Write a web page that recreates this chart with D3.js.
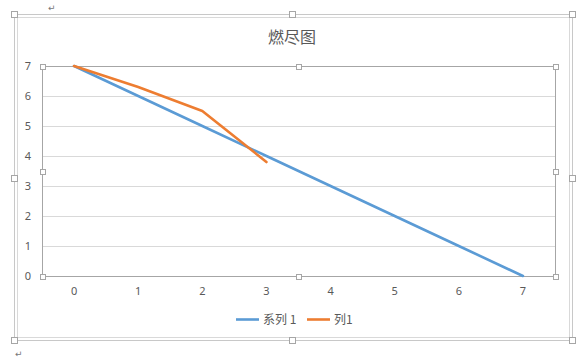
<!DOCTYPE html>
<html><head><meta charset="utf-8">
<script src="https://cdn.jsdelivr.net/npm/d3@7"></script>
<style>
html,body{margin:0;padding:0;background:#fff;}
svg{display:block;font-family:"Noto Sans CJK SC","Microsoft YaHei","DejaVu Sans",sans-serif;}
</style></head>
<body>
<svg id="c" width="581" height="359"></svg>
<script>
const categories = [0, 1, 2, 3, 4, 5, 6, 7];
const series1 = [7, 6, 5, 4, 3, 2, 1, 0];
const col1 = [7, 6.3, 5.5, 3.8];
const yTicks = [0, 1, 2, 3, 4, 5, 6, 7];
const title = "燃尽图";
const seriesNames = ["系列 1", "列1"];
const colors = ["#5B9BD5", "#ED7D31"];

const svg = d3.select("#c");
const L = 42, R = 555, T = 66, B = 276;

// outer frame (chart area + selection frame)
svg.append("rect").attr("x", 14.5).attr("y", 14.5).attr("width", 558).attr("height", 326)
  .attr("fill", "none").attr("stroke", "#C8C8C8");
svg.append("rect").attr("x", 17.5).attr("y", 17.5).attr("width", 552).attr("height", 320)
  .attr("fill", "none").attr("stroke", "#D9D9D9");

const x = d3.scaleBand().domain(categories).range([L, R]);
const y = d3.scaleLinear().domain([0, 7]).range([B, T]);
const cx = d => x(d) + x.bandwidth() / 2;

// gridlines
svg.append("g").selectAll("line").data(yTicks).join("line")
  .attr("x1", L).attr("x2", R)
  .attr("y1", d => Math.round(y(d)) + 0.5).attr("y2", d => Math.round(y(d)) + 0.5)
  .attr("stroke", "#D9D9D9");

// plot area border (selection)
svg.append("rect").attr("x", L + 0.5).attr("y", T + 0.5).attr("width", R - L).attr("height", B - T)
  .attr("fill", "none").attr("stroke", "#A6A6A6");

// y axis labels
const yAxis = d3.axisLeft(y).tickValues(yTicks).tickSize(0).tickPadding(11).tickFormat(d3.format("d"));
const gy = svg.append("g").attr("transform", `translate(${L},0)`).call(yAxis);
gy.select(".domain").remove();
gy.selectAll("text").attr("fill", "#595959").style("font-size", "11px").attr("font-family", "Noto Sans, DejaVu Sans, sans-serif");

// x axis labels
const xAxis = d3.axisBottom(x).tickSize(0).tickPadding(11);
const gx = svg.append("g").attr("transform", `translate(0,${B})`).call(xAxis);
gx.select(".domain").remove();
gx.selectAll("text").attr("fill", "#595959").style("font-size", "11px").attr("font-family", "Noto Sans, DejaVu Sans, sans-serif");

// lines
const line = d3.line().x((d, i) => cx(categories[i])).y(d => y(d));
svg.append("path").datum(series1).attr("d", line).attr("fill", "none")
  .attr("stroke", colors[0]).attr("stroke-width", 2.6).attr("stroke-linejoin", "round").attr("stroke-linecap", "round");
svg.append("path").datum(col1).attr("d", line).attr("fill", "none")
  .attr("stroke", colors[1]).attr("stroke-width", 2.6).attr("stroke-linejoin", "round").attr("stroke-linecap", "round");

// handles
function handle(hx, hy, s) {
  svg.append("rect").attr("x", Math.round(hx - s / 2) + 0.5).attr("y", Math.round(hy - s / 2) + 0.5)
    .attr("width", s).attr("height", s).attr("fill", "#fff").attr("stroke", "#A6A6A6");
}
const my = (T + B) / 2;
[[L, T], [298, T], [R, T], [L, my], [R, my], [L, B], [298, B], [R, B]].forEach(p => handle(p[0], p[1], 5));
[[14, 14], [292, 14], [572, 14], [14, 178], [572, 178], [14, 340], [292, 340], [572, 340]].forEach(p => handle(p[0], p[1], 6));

// title
svg.append("text").attr("x", 292).attr("y", 43).attr("text-anchor", "middle")
  .attr("fill", "#595959").style("font-size", "16px").text(title);

// legend
const lg = svg.append("g");
const legendItems = [{x: 236, name: seriesNames[0], c: colors[0]}, {x: 307, name: seriesNames[1], c: colors[1]}];
legendItems.forEach(it => {
  lg.append("line").attr("x1", it.x).attr("x2", it.x + 23).attr("y1", 319.5).attr("y2", 319.5)
    .attr("stroke", it.c).attr("stroke-width", 2.6);
  lg.append("text").attr("x", it.x + 27).attr("y", 324).attr("fill", "#595959")
    .style("font-size", "12px").text(it.name);
});

// paragraph marks
svg.append("text").attr("x", 48).attr("y", 11).attr("fill", "#777").style("font-size", "9px").attr("font-family", "DejaVu Sans").text("↵");
svg.append("text").attr("x", 15).attr("y", 357).attr("fill", "#777").style("font-size", "9px").attr("font-family", "DejaVu Sans").text("↵");
</script>
</body></html>
